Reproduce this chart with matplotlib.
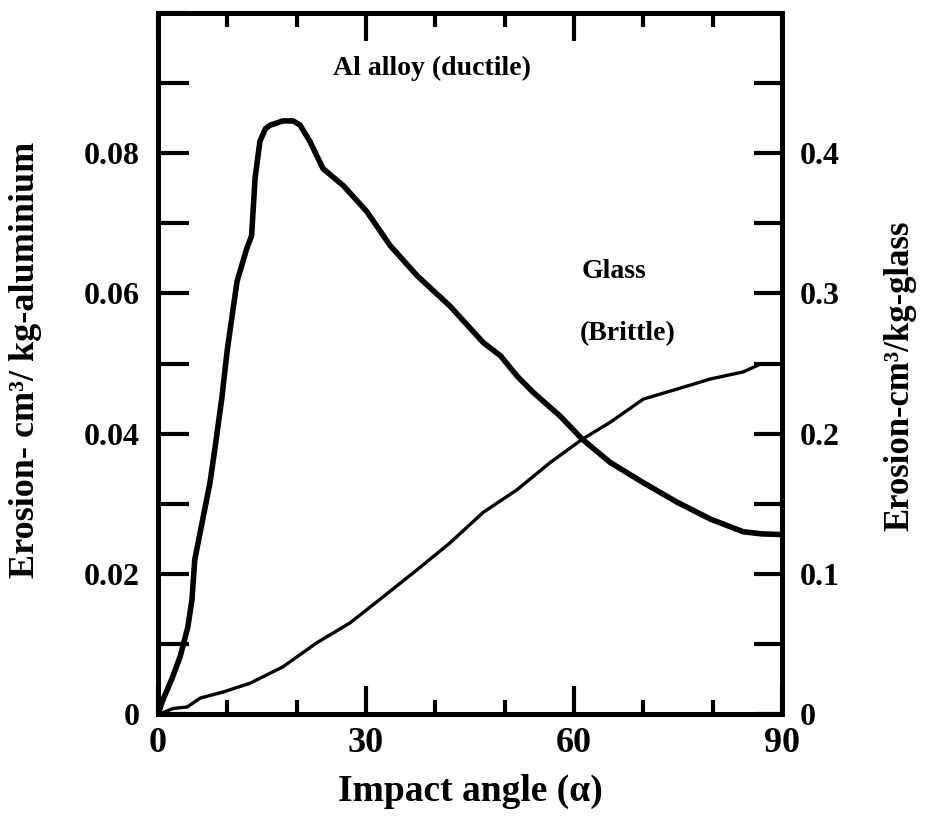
import matplotlib
matplotlib.use("Agg")
import matplotlib.pyplot as plt
from matplotlib.ticker import MultipleLocator

plt.rcParams['font.family'] = ['Liberation Serif', 'DejaVu Serif']
plt.rcParams['font.weight'] = 'bold'

# Al alloy (ductile), left axis
al_angle = [0, 0.7, 2.0, 3.2, 4.3, 4.9, 5.3, 6.5, 7.5, 8.2, 9.2, 10.0, 11.4, 12.8,
            13.5, 14.0, 14.7, 15.5, 16.2, 18.0, 19.5, 20.5, 21.9, 23.8, 26.7, 30.1,
            33.5, 37.4, 42.1, 46.9, 49.4, 51.8, 54.1, 58.0, 61.2, 65.2, 70.0, 74.9,
            79.7, 84.4, 87.0, 90.0]
al_erosion = [0, 0.002, 0.005, 0.0082, 0.0124, 0.0163, 0.022, 0.028, 0.033, 0.0378,
              0.045, 0.052, 0.0617, 0.0664, 0.0682, 0.0764, 0.0817, 0.0835, 0.084,
              0.0846, 0.0846, 0.084, 0.0817, 0.0778, 0.0754, 0.0717, 0.0668, 0.0625,
              0.0582, 0.053, 0.0511, 0.0482, 0.0459, 0.0425, 0.0392, 0.0359, 0.033,
              0.0302, 0.0278, 0.026, 0.0257, 0.0256]

# Glass (brittle), right axis
glass_angle = [0, 0.7, 2.2, 4.2, 6.1, 9.4, 13.3, 18.0, 22.9, 27.7, 32.5, 37.4, 42.1,
               46.9, 51.8, 56.6, 61.2, 65.2, 70.0, 74.9, 79.7, 84.4, 86.9, 90.0]
glass_erosion = [0, 0.001, 0.004, 0.005, 0.0114, 0.0157, 0.022, 0.0336, 0.0508, 0.065,
                 0.0837, 0.103, 0.122, 0.1438, 0.160, 0.1795, 0.196, 0.208, 0.2246,
                 0.2318, 0.239, 0.244, 0.2496, 0.2496]

x_ticks = [0, 30, 60, 90]
left_ticks = [0, 0.02, 0.04, 0.06, 0.08]
left_labels = ['0', '0.02', '0.04', '0.06', '0.08']
right_ticks = [0, 0.1, 0.2, 0.3, 0.4]
right_labels = ['0', '0.1', '0.2', '0.3', '0.4']

fig = plt.figure(figsize=(9.25, 8.32), dpi=100)
ax = fig.add_axes([0.1708, 0.1418, 0.6746, 0.8426])
ax2 = ax.twinx()

ax.plot(al_angle, al_erosion, color='black', lw=4, solid_joinstyle='round')
ax2.plot(glass_angle, glass_erosion, color='black', lw=2.4, solid_joinstyle='round')

ax.set_xlim(0, 90)
ax.set_ylim(0, 0.1)
ax2.set_ylim(0, 0.5)

ax.set_xticks(x_ticks)
ax.set_xticklabels([str(t) for t in x_ticks])
ax.xaxis.set_minor_locator(MultipleLocator(10))
ax.set_yticks(left_ticks)
ax.set_yticklabels(left_labels)
ax.yaxis.set_minor_locator(MultipleLocator(0.01))
ax2.set_yticks(right_ticks)
ax2.set_yticklabels(right_labels)
ax2.yaxis.set_minor_locator(MultipleLocator(0.05))

ax.tick_params(axis='x', which='both', direction='in', top=True, width=3,
               labelsize=26, pad=9)
ax.tick_params(axis='x', which='major', length=20)
ax.tick_params(axis='x', which='minor', length=10)
ax.tick_params(axis='y', which='both', direction='in', length=22, width=3,
               labelsize=23, pad=13)
ax2.tick_params(axis='y', which='both', direction='in', length=20, width=3,
                labelsize=23, pad=13)

for a in (ax, ax2):
    for s in a.spines.values():
        s.set_linewidth(3.5)

ax.set_xlabel('Impact angle (α)', fontsize=27, fontweight='bold')
ax.xaxis.set_label_coords(0.5, -0.085)
ax.set_ylabel('Erosion- cm³/ kg-aluminium', fontsize=26, fontweight='bold')
ax.yaxis.set_label_coords(-0.186, 0.505)
ax2.set_ylabel('Erosion-cm³/kg-glass', fontsize=25, fontweight='bold')
ax2.yaxis.set_label_coords(1.163, 0.482)

ax.text(39.5, 0.0921, 'Al alloy (ductile)', fontsize=20, fontweight='bold',
        ha='center', va='center')
ax.text(65.7, 0.0631, 'Glass', fontsize=20, fontweight='bold',
        ha='center', va='center')
ax.text(67.7, 0.0542, '(Brittle)', fontsize=20, fontweight='bold',
        ha='center', va='center')

fig.savefig('out.png', dpi=100)
